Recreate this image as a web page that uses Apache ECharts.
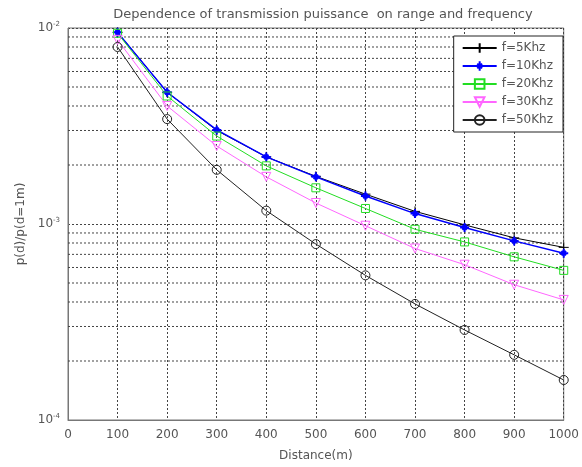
<!DOCTYPE html>
<html>
<head>
<meta charset="utf-8">
<script src="https://cdn.jsdelivr.net/npm/echarts@6/dist/echarts.min.js"></script>
<style>
  html, body { margin: 0; padding: 0; background: #fff; }
  #chart { width: 582px; height: 467px; }
</style>
</head>
<body>
<div id="chart"></div>
<script>
// Distance from the transmitter, metres
const distance = [100, 200, 300, 400, 500, 600, 700, 800, 900, 1000];

// Relative received power p(d)/p(d=1m) per frequency
const f5k  = [0.0095, 0.0047, 0.0030, 0.0022, 0.00175, 0.00142, 0.00116, 0.00099, 0.00085, 0.00076];
const f10k = [0.0095, 0.0047, 0.00302, 0.0022, 0.00174, 0.00139, 0.00113, 0.00096, 0.00082, 0.00071];
const f20k = [0.0094, 0.0045, 0.00281, 0.00198, 0.00153, 0.00120, 0.00094, 0.00081, 0.00068, 0.00058];
const f30k = [0.0087, 0.0040, 0.00250, 0.00174, 0.00128, 0.00098, 0.00075, 0.00062, 0.00049, 0.00041];
const f50k = [0.0080, 0.00343, 0.00189, 0.00117, 0.00079, 0.000547, 0.000391, 0.000288, 0.000215, 0.00016];

const seriesNames = ['f=5Khz', 'f=10Khz', 'f=20Khz', 'f=30Khz', 'f=50Khz'];
// Intermediate log-decade grid values (2..9 × 10^n)
const minorGrid = [2e-4, 3e-4, 4e-4, 5e-4, 6e-4, 7e-4, 8e-4, 9e-4,
                   2e-3, 3e-3, 4e-3, 5e-3, 6e-3, 7e-3, 8e-3, 9e-3];

const pairs = arr => distance.map((d, i) => [d, arr[i]]);
const FONT = 'DejaVu Sans';
const TEXT = '#555';
const gridDash = { color: '#444', width: 1, type: [2, 2] };

function line(name, data, color, symbol, size, extra) {
  return Object.assign({
    name: name,
    type: 'line',
    data: pairs(data),
    symbol: symbol,
    symbolSize: size,
    lineStyle: { color: color, width: 1 },
    itemStyle: { color: 'rgba(0,0,0,0)', borderColor: color, borderWidth: 1 },
    emphasis: { disabled: true },
    z: 3
  }, extra || {});
}

// Horizontal dotted rules at the in-between decade values, placed via the y scale
function minorRule(params, api) {
  const cs = params.coordSys;
  const y = api.coord([0, api.value(0)])[1];
  return {
    type: 'line',
    shape: { x1: cs.x, y1: y, x2: cs.x + cs.width, y2: y },
    style: { stroke: gridDash.color, lineWidth: 1, lineDash: gridDash.type }
  };
}

const chart = echarts.init(document.getElementById('chart'), null, { renderer: 'canvas' });
chart.setOption({
  animation: false,
  backgroundColor: '#fff',
  title: {
    text: 'Dependence of transmission puissance  on range and frequency',
    left: 318, top: 3, textAlign: 'center',
    textStyle: { fontFamily: FONT, fontSize: 13, fontWeight: 'normal', color: TEXT }
  },
  grid: {
    left: 68, right: 11, top: 28, bottom: 46,
    show: true, borderColor: '#777', borderWidth: 1, backgroundColor: 'transparent'
  },
  legend: {
    orient: 'vertical',
    right: 19, top: 36,
    padding: [6, 10, 6, 8],
    itemGap: 6,
    itemWidth: 34, itemHeight: 12,
    backgroundColor: '#fff',
    borderColor: '#222', borderWidth: 1,
    textStyle: { fontFamily: FONT, fontSize: 12, color: TEXT },
    data: seriesNames
  },
  xAxis: {
    type: 'value', min: 0, max: 1000, interval: 100,
    name: 'Distance(m)', nameLocation: 'middle', nameGap: 30,
    nameTextStyle: { fontFamily: FONT, fontSize: 12, color: TEXT },
    axisLine: { show: true, lineStyle: { color: '#777' } },
    axisTick: { show: false },
    axisLabel: { fontFamily: FONT, fontSize: 12, color: TEXT, margin: 9, formatter: v => String(v) },
    splitLine: { show: true, lineStyle: gridDash }
  },
  yAxis: {
    type: 'log', logBase: 10, min: 1e-4, max: 1e-2,
    name: 'p(d)/p(d=1m)', nameLocation: 'middle', nameGap: 35,
    nameTextStyle: { fontFamily: FONT, fontSize: 12, color: TEXT },
    axisLine: { show: true, lineStyle: { color: '#777' } },
    axisTick: { show: false },
    axisLabel: {
      fontFamily: FONT, fontSize: 12, color: TEXT, margin: 8,
      formatter: v => '10{sup|' + Math.round(Math.log10(v)) + '}',
      rich: { sup: { fontSize: 7, verticalAlign: 'top', padding: [0, 0, 8, 0], fontFamily: FONT, color: TEXT } }
    },
    splitLine: { show: true, lineStyle: gridDash }
  },
  series: [
    {
      type: 'custom',
      name: 'minor-grid',
      renderItem: minorRule,
      data: minorGrid.map(v => [v]),
      encode: { y: 0 },
      silent: true,
      z: 1
    },
    line(seriesNames[0], f5k, '#000', 'path://M0,-1L0,1M-1,0L1,0', 10),
    line(seriesNames[1], f10k, '#0000ff', 'path://M0,-1L0,1M-1,0L1,0M-0.5,-0.5L0.5,0.5M-0.5,0.5L0.5,-0.5', 9, {
      lineStyle: { color: '#0000ff', width: 1.5 },
      itemStyle: { color: '#0000ff', borderColor: '#0000ff', borderWidth: 2 }
    }),
    line(seriesNames[2], f20k, '#22dd22', 'rect', 8),
    line(seriesNames[3], f30k, '#ff66ff', 'triangle', 9, { symbolRotate: 180 }),
    line(seriesNames[4], f50k, '#222', 'circle', 9)
  ]
});
</script>
</body>
</html>
